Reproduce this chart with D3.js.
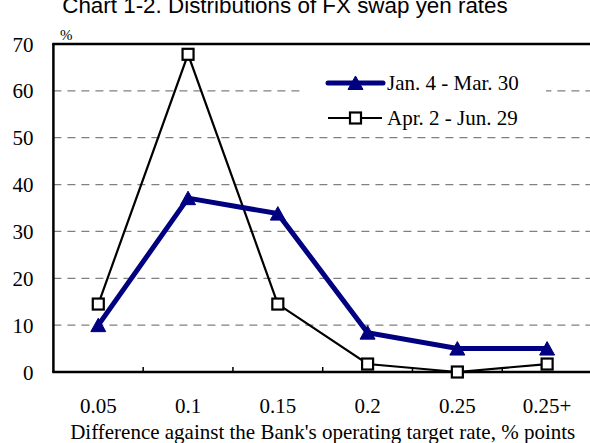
<!DOCTYPE html>
<html>
<head>
<meta charset="utf-8">
<script src="https://cdn.jsdelivr.net/npm/d3@7"></script>
<style>
  html, body { margin: 0; padding: 0; background: #fff; }
  svg { display: block; }
</style>
</head>
<body>
<svg id="chart" width="590" height="443"></svg>
<script>
// Category labels on the x axis (difference against target rate, % points)
const categories = ["0.05", "0.1", "0.15", "0.2", "0.25", "0.25+"];
// Share of days in each bucket, %
const janMar = [10.0, 37.1, 33.8, 8.4, 5.0, 5.0];
const aprJun = [14.5, 67.8, 14.5, 1.7, 0.0, 1.7];
const seriesNames = ["Jan. 4 - Mar. 30", "Apr. 2 - Jun. 29"];
const yTicks = [0, 10, 20, 30, 40, 50, 60, 70];

const svg = d3.select("#chart");
const serif = "'Liberation Serif', 'Times New Roman', serif";
const sans = "'Liberation Sans', Arial, sans-serif";

const plot = { left: 53.4, right: 592, top: 44, bottom: 372 };

const x = d3.scaleBand().domain(categories).range([plot.left, plot.right]).padding(0);
const y = d3.scaleLinear().domain([0, 70]).range([plot.bottom, plot.top]);
const cx = d => x(d) + x.bandwidth() / 2;

// Title
svg.append("text")
  .attr("x", 285).attr("y", 13)
  .attr("text-anchor", "middle")
  .style("font-family", sans).style("font-size", "22.4px")
  .attr("fill", "#000")
  .text("Chart 1-2. Distributions of FX swap yen rates");

// Dashed horizontal gridlines
svg.append("g")
  .selectAll("line")
  .data(yTicks.filter(t => t > 0 && t < 70))
  .join("line")
  .attr("x1", plot.left).attr("x2", plot.right)
  .attr("y1", d => y(d)).attr("y2", d => y(d))
  .attr("stroke", "#808080").attr("stroke-width", 1.2)
  .attr("stroke-dasharray", "8,6");

// Y axis labels
const yAxis = d3.axisLeft(y).tickValues(yTicks).tickSize(0).tickPadding(20);
const gy = svg.append("g").attr("transform", `translate(${plot.left},0)`).call(yAxis);
gy.select(".domain").remove();
gy.selectAll("text")
  .style("font-family", serif).style("font-size", "21px")
  .attr("fill", "#000").attr("dy", "0.34em");

// X axis with inward ticks at category boundaries
const gx = svg.append("g").attr("transform", `translate(0,${plot.bottom})`);
gx.selectAll("line.tick")
  .data(categories.slice(1))
  .join("line")
  .attr("class", "tick")
  .attr("x1", d => x(d)).attr("x2", d => x(d))
  .attr("y1", 0).attr("y2", -5)
  .attr("stroke", "#000").attr("stroke-width", 1.5);
gx.selectAll("text")
  .data(categories)
  .join("text")
  .attr("x", d => cx(d)).attr("y", 41)
  .attr("text-anchor", "middle")
  .style("font-family", serif).style("font-size", "21px")
  .attr("fill", "#000")
  .text(d => d);

// Frame: left axis, bottom axis, top border
svg.append("line").attr("x1", plot.left).attr("x2", plot.left)
  .attr("y1", plot.top).attr("y2", plot.bottom)
  .attr("stroke", "#000").attr("stroke-width", 2.5);
svg.append("line").attr("x1", plot.left - 1.2).attr("x2", plot.right)
  .attr("y1", plot.bottom).attr("y2", plot.bottom)
  .attr("stroke", "#000").attr("stroke-width", 2.5);
svg.append("line").attr("x1", plot.left - 1.2).attr("x2", plot.right)
  .attr("y1", plot.top).attr("y2", plot.top)
  .attr("stroke", "#000").attr("stroke-width", 2.5);

// Unit label
svg.append("text")
  .attr("x", 60).attr("y", 40)
  .style("font-family", serif).style("font-size", "15px")
  .attr("fill", "#000").text("%");

// Axis title
svg.append("text")
  .attr("x", (plot.left + plot.right) / 2).attr("y", 439)
  .attr("text-anchor", "middle")
  .style("font-family", serif).style("font-size", "21px")
  .attr("fill", "#000")
  .text("Difference against the Bank's operating target rate, % points");

// Marker shapes
const triPath = "M0,-7 L7.5,6.5 L-7.5,6.5 Z";
const navy = "#000080";

const line = d3.line().x(d => cx(d.c)).y(d => y(d.v));
const janData = categories.map((c, i) => ({ c, v: janMar[i] }));
const aprData = categories.map((c, i) => ({ c, v: aprJun[i] }));

// Apr - Jun series (thin black with hollow squares)
svg.append("path").datum(aprData)
  .attr("d", line).attr("fill", "none")
  .attr("stroke", "#000").attr("stroke-width", 2.2)
  .attr("stroke-linejoin", "miter");

// Jan - Mar series (thick navy with triangles)
svg.append("path").datum(janData)
  .attr("d", line).attr("fill", "none")
  .attr("stroke", navy).attr("stroke-width", 5)
  .attr("stroke-linejoin", "miter");

svg.append("g").selectAll("path")
  .data(janData).join("path")
  .attr("transform", d => `translate(${cx(d.c)},${y(d.v)})`)
  .attr("d", triPath)
  .attr("fill", navy).attr("stroke", navy).attr("stroke-width", 1);

svg.append("g").selectAll("rect")
  .data(aprData).join("rect")
  .attr("x", d => cx(d.c) - 5.5).attr("y", d => y(d.v) - 5.5)
  .attr("width", 11).attr("height", 11)
  .attr("fill", "#fff").attr("stroke", "#000").attr("stroke-width", 2.2);

// Legend
const legend = svg.append("g");
legend.append("rect")
  .attr("x", 304).attr("y", 68).attr("width", 242).attr("height", 62)
  .attr("fill", "#fff");
const lg = [
  { name: seriesNames[0], y: 83, kind: "tri" },
  { name: seriesNames[1], y: 118, kind: "sq" }
];
lg.forEach(e => {
  const g = legend.append("g");
  if (e.kind === "tri") {
    g.append("line").attr("x1", 328).attr("x2", 383).attr("y1", e.y).attr("y2", e.y)
      .attr("stroke", navy).attr("stroke-width", 5).attr("stroke-linecap", "round");
    g.append("path").attr("transform", `translate(355.5,${e.y})`).attr("d", triPath)
      .attr("fill", navy).attr("stroke", navy).attr("stroke-width", 1);
  } else {
    g.append("line").attr("x1", 328).attr("x2", 382).attr("y1", e.y).attr("y2", e.y)
      .attr("stroke", "#000").attr("stroke-width", 2.2);
    g.append("rect").attr("x", 355.5 - 5.5).attr("y", e.y - 5.5)
      .attr("width", 11).attr("height", 11)
      .attr("fill", "#fff").attr("stroke", "#000").attr("stroke-width", 2.2);
  }
  g.append("text").attr("x", 387).attr("y", e.y + 7)
    .style("font-family", serif).style("font-size", "21px")
    .attr("fill", "#000").text(e.name);
});
</script>
</body>
</html>
